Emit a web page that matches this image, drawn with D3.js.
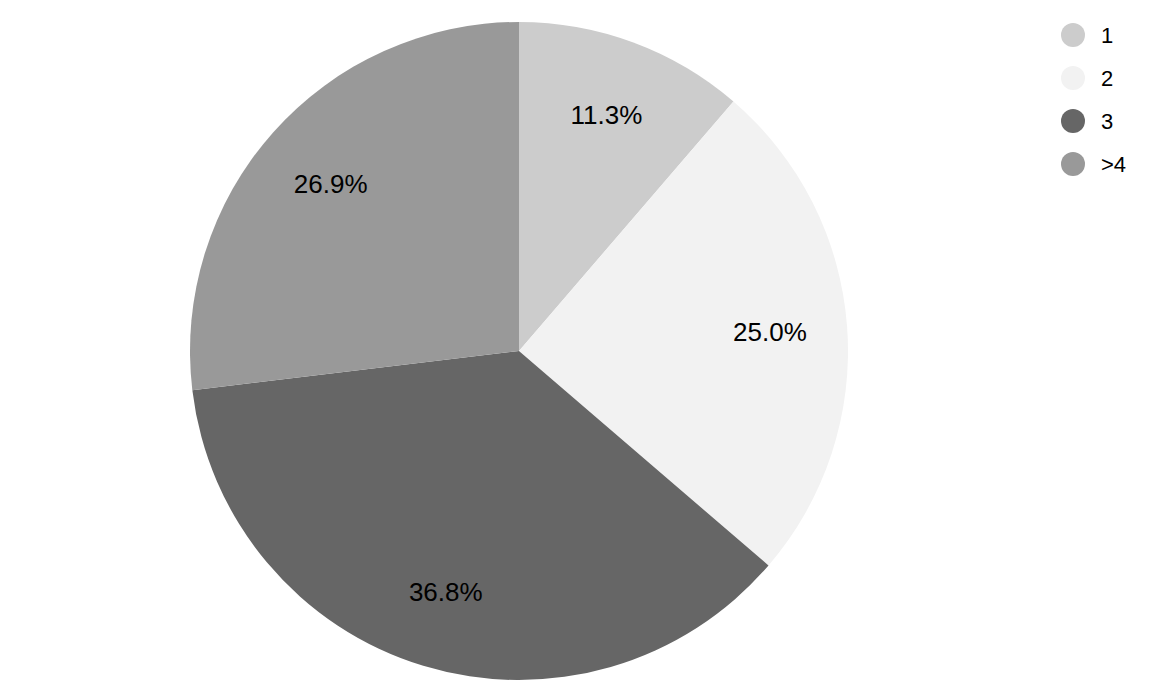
<!DOCTYPE html>
<html><head><meta charset="utf-8">
<script src="https://cdn.jsdelivr.net/npm/d3@7/dist/d3.min.js"></script>
<style>body{margin:0;background:#fff}svg{display:block}</style>
</head><body>
<svg id="c" width="1155" height="691"></svg>
<script>
const categories = ["1", "2", "3", ">4"];
const values = [11.3, 25.0, 36.8, 26.9];
const colors = ["#cccccc", "#f2f2f2", "#666666", "#999999"];

const svg = d3.select("#c");
const cx = 519, cy = 351, R = 329;
const data = categories.map((c, i) => ({cat: c, value: values[i], color: colors[i]}));
const pie = d3.pie().value(d => d.value).sort(null);
const arc = d3.arc().innerRadius(0).outerRadius(R);
const labelArc = d3.arc().innerRadius(R * 0.765).outerRadius(R * 0.765);
const g = svg.append("g").attr("transform", `translate(${cx},${cy})`);
const arcs = pie(data);
g.selectAll("path").data(arcs).enter().append("path")
  .attr("d", arc).attr("fill", d => d.data.color);
g.selectAll("text").data(arcs).enter().append("text")
  .attr("transform", d => `translate(${labelArc.centroid(d)})`)
  .attr("text-anchor", "middle").attr("dy", "0.36em")
  .attr("font-family", "Liberation Sans, Arial, sans-serif").attr("font-size", 26)
  .attr("fill", "#000")
  .text(d => d.data.value.toFixed(1) + "%");

const lg = svg.append("g");
const items = lg.selectAll("g").data(data).enter().append("g")
  .attr("transform", (d, i) => `translate(1073,${35 + i * 43})`);
items.append("circle").attr("r", 12).attr("fill", d => d.color);
items.append("text").attr("x", 28).attr("dy", "0.36em")
  .attr("font-family", "Liberation Sans, Arial, sans-serif").attr("font-size", 22)
  .attr("fill", "#000").text(d => d.cat);
</script>
</body></html>
